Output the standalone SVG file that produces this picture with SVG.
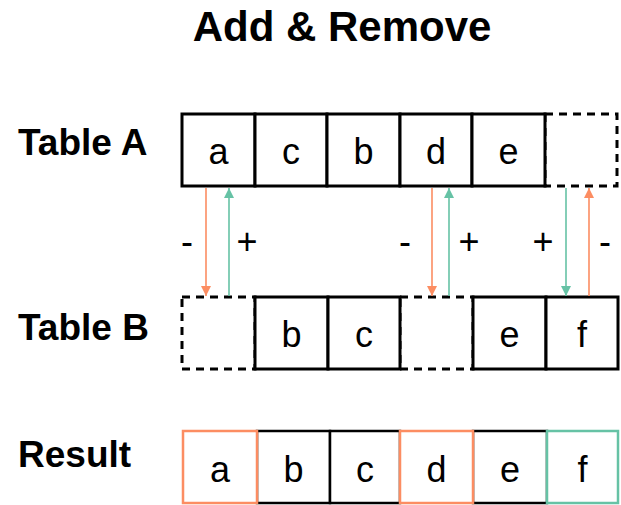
<svg xmlns="http://www.w3.org/2000/svg" width="621" height="505" viewBox="0 0 621 505">
<style>
.lbl{font-family:"Liberation Sans",Arial,sans-serif;font-weight:bold;fill:#000}
.cell{font-family:"Liberation Sans",Arial,sans-serif;font-size:36px;fill:#000;text-anchor:middle}
.sign{font-family:"Liberation Sans",Arial,sans-serif;font-size:36px;fill:#000;text-anchor:middle}
.solid{fill:#fff;stroke:#000;stroke-width:3}
.dash{fill:#fff;stroke:#000;stroke-width:3;stroke-dasharray:8,6}
.ro{fill:#fff;stroke:#FC8D62;stroke-width:2.5}
.rg{fill:#fff;stroke:#66C2A5;stroke-width:2.5}
.rk{fill:#fff;stroke:#000;stroke-width:2.5}
.ao{stroke:#FC8D62;stroke-width:1.6;fill:none}
.ag{stroke:#66C2A5;stroke-width:1.6;fill:none}
</style>
<defs>
<marker id="mo" viewBox="0 0 10 12" refX="10" refY="5" markerWidth="10" markerHeight="12" markerUnits="userSpaceOnUse" orient="auto"><path d="M0,0 L10,5 L0,10 Z" fill="#FC8D62"/></marker>
<marker id="mg" viewBox="0 0 10 12" refX="10" refY="5" markerWidth="10" markerHeight="12" markerUnits="userSpaceOnUse" orient="auto"><path d="M0,0 L10,5 L0,10 Z" fill="#66C2A5"/></marker>
</defs>
<rect width="621" height="505" fill="#fff"/>
<text class="lbl" x="342" y="41" font-size="42" text-anchor="middle">Add &amp; Remove</text>
<text class="lbl" x="18" y="155" font-size="37">Table A</text>
<text class="lbl" x="18" y="340" font-size="37">Table B</text>
<text class="lbl" x="18" y="467" font-size="37">Result</text>

<g id="tableA">
<rect class="dash" x="545" y="114" width="72" height="72"/>
<g id="A1"><rect class="solid" x="182" y="114" width="73" height="72"/><text class="cell" x="218.5" y="164">a</text></g>
<g id="A2"><rect class="solid" x="255" y="114" width="72" height="72"/><text class="cell" x="291" y="164">c</text></g>
<g id="A3"><rect class="solid" x="327" y="114" width="73" height="72"/><text class="cell" x="363.5" y="164">b</text></g>
<g id="A4"><rect class="solid" x="400" y="114" width="72" height="72"/><text class="cell" x="436" y="164">d</text></g>
<g id="A5"><rect class="solid" x="472" y="114" width="73" height="72"/><text class="cell" x="508.5" y="164">e</text></g>
</g>

<g id="tableB">
<rect class="dash" x="182" y="297" width="73" height="72"/>
<rect class="dash" x="400" y="297" width="73" height="72"/>
<g id="B2"><rect class="solid" x="255" y="297" width="73" height="72"/><text class="cell" x="291.5" y="347">b</text></g>
<g id="B3"><rect class="solid" x="328" y="297" width="72" height="72"/><text class="cell" x="364" y="347">c</text></g>
<g id="B5"><rect class="solid" x="473" y="297" width="73" height="72"/><text class="cell" x="509.5" y="347">e</text></g>
<g id="B6"><rect class="solid" x="546" y="297" width="72" height="72"/><text class="cell" x="582" y="347">f</text></g>
</g>

<g id="result">
<g id="R2"><rect class="rk" x="257" y="431" width="73" height="72"/><text class="cell" x="293.5" y="482">b</text></g>
<g id="R3"><rect class="rk" x="330" y="431" width="70" height="72"/><text class="cell" x="365" y="482">c</text></g>
<g id="R5"><rect class="rk" x="473" y="431" width="74" height="72"/><text class="cell" x="510" y="482">e</text></g>
<g id="R1"><rect class="ro" x="183" y="431" width="74" height="72"/><text class="cell" x="220" y="482">a</text></g>
<g id="R4"><rect class="ro" x="400" y="431" width="73" height="72"/><text class="cell" x="436.5" y="482">d</text></g>
<g id="R6"><rect class="rg" x="547" y="431" width="71" height="72"/><text class="cell" x="582.5" y="482">f</text></g>
</g>

<g id="connectors">
<line class="ao" x1="206" y1="188" x2="206" y2="296" marker-end="url(#mo)"/>
<line class="ag" x1="229" y1="296" x2="229" y2="188" marker-end="url(#mg)"/>
<line class="ao" x1="432" y1="188" x2="432" y2="296" marker-end="url(#mo)"/>
<line class="ag" x1="449" y1="296" x2="449" y2="188" marker-end="url(#mg)"/>
<line class="ag" x1="566" y1="188" x2="566" y2="296" marker-end="url(#mg)"/>
<line class="ao" x1="589" y1="296" x2="589" y2="188" marker-end="url(#mo)"/>
</g>

<g id="signs">
<text class="sign" x="187" y="254">-</text>
<text class="sign" x="247" y="254">+</text>
<text class="sign" x="405" y="254">-</text>
<text class="sign" x="469" y="254">+</text>
<text class="sign" x="543" y="254">+</text>
<text class="sign" x="605" y="254">-</text>
</g>
</svg>
